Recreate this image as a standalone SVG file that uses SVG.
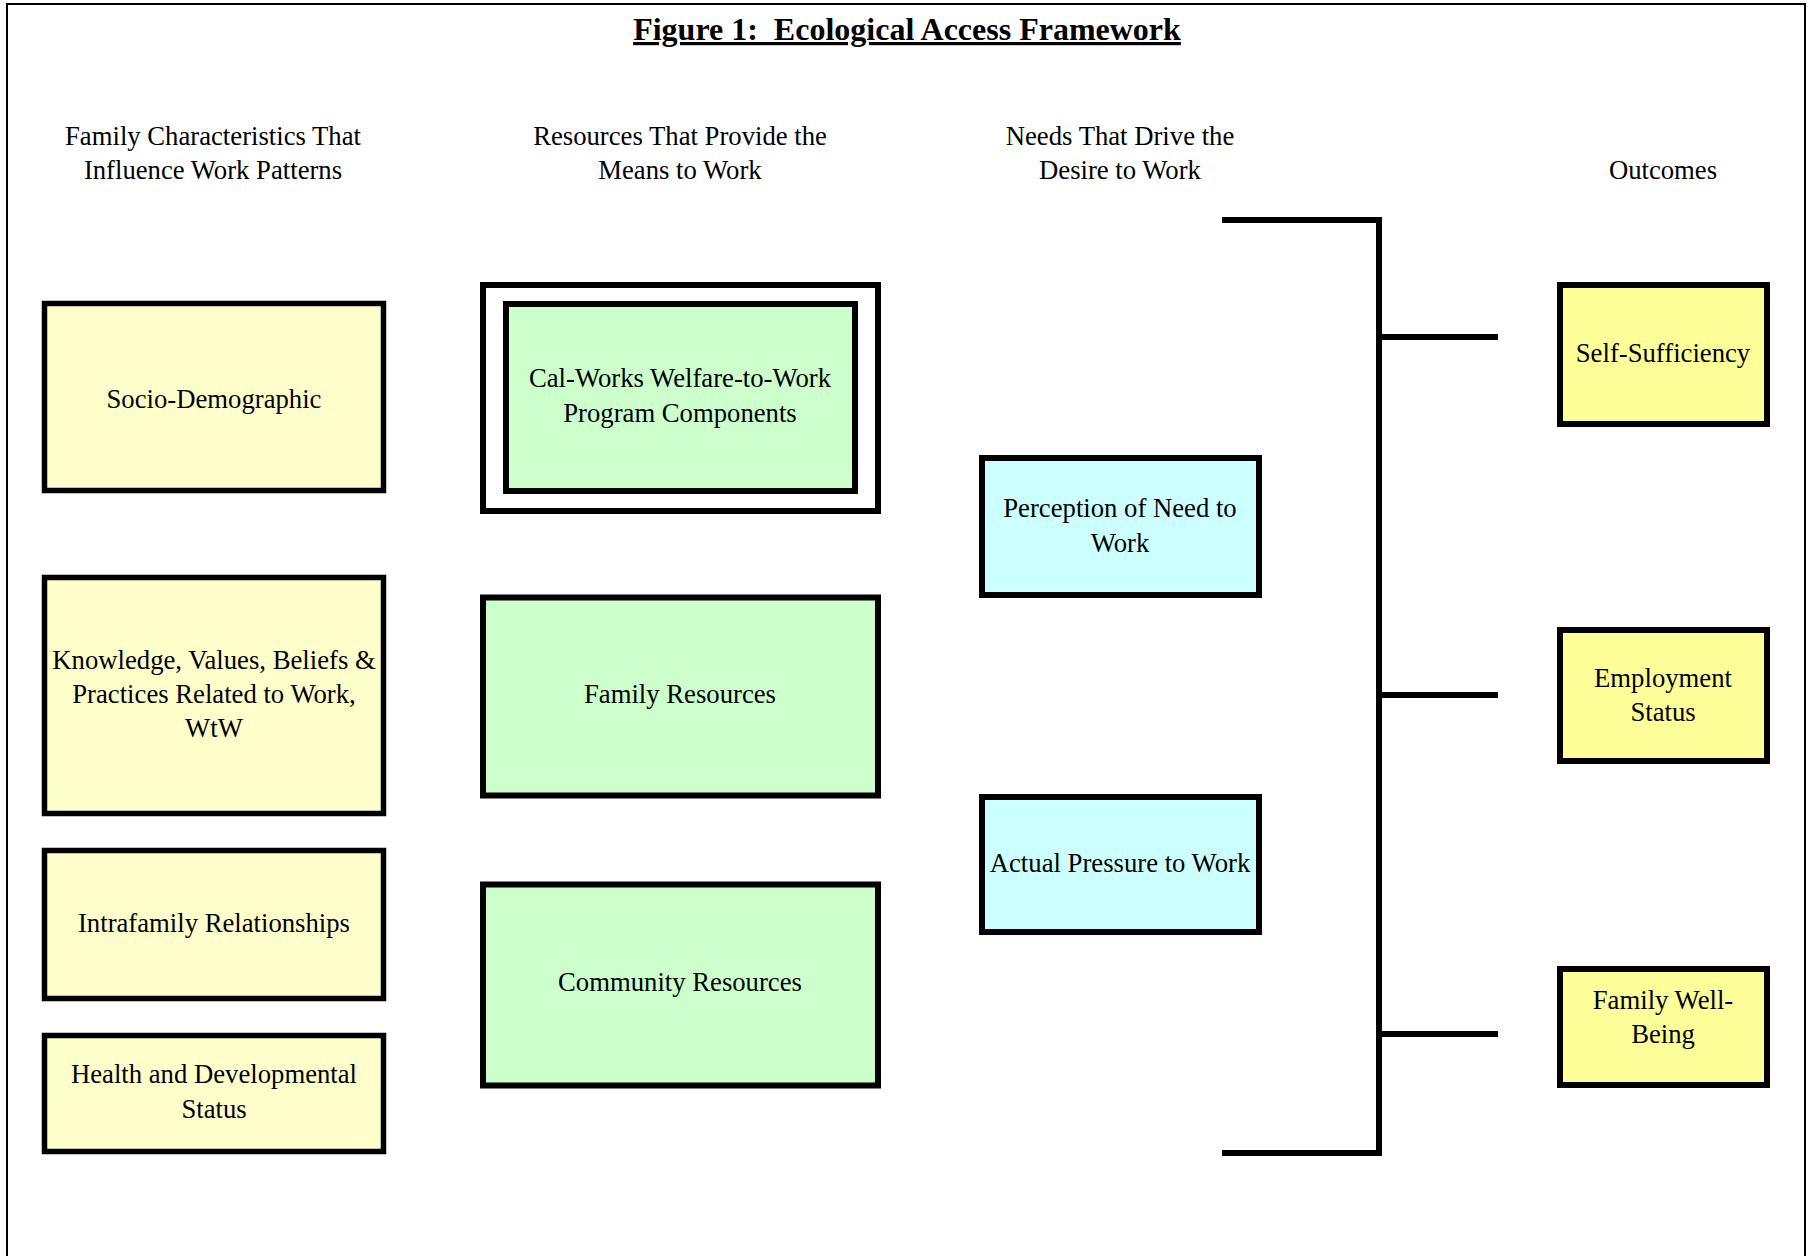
<svg xmlns="http://www.w3.org/2000/svg" width="1807" height="1256" viewBox="0 0 1807 1256">
<style>
text{font-family:"Liberation Serif","Times New Roman",serif;fill:#000;text-anchor:middle}
.t{font-size:26.7px}
.h{font-size:26.7px}
.title{font-size:32px;font-weight:bold;text-decoration:underline;white-space:pre}
.c1{fill:#FFFFCC;stroke:#000;stroke-width:5.5}
.c2{fill:#CCFFCC;stroke:#000;stroke-width:6}
.c3{fill:#CCFFFF;stroke:#000;stroke-width:6}
.c4{fill:#FFFF99;stroke:#000;stroke-width:6}
.frame{fill:#fff;stroke:#000;stroke-width:6}
.ln{fill:none;stroke:#000;stroke-width:6}
</style>
<rect width="1807" height="1256" fill="#fff"/>
<path d="M7 1256 V4 H1805 V1256" fill="none" stroke="#000" stroke-width="2"/>
<text class="title" x="907" y="40" xml:space="preserve">Figure 1:  Ecological Access Framework</text>
<g id="headers">
<text class="h" x="213" y="145">Family Characteristics That</text>
<text class="h" x="213" y="178.5">Influence Work Patterns</text>
<text class="h" x="680" y="145">Resources That Provide the</text>
<text class="h" x="680" y="178.5">Means to Work</text>
<text class="h" x="1120" y="145">Needs That Drive the</text>
<text class="h" x="1120" y="178.5">Desire to Work</text>
<text class="h" x="1663" y="178.5">Outcomes</text>
</g>
<g id="connectors">
<path class="ln" d="M1222 220 H1379 V1153 H1222"/>
<path class="ln" d="M1379 337 H1498 M1379 695 H1498 M1379 1034 H1498"/>
</g>
<g id="socio-demographic">
<rect class="c1" x="44.5" y="303.5" width="339" height="187"/>
<text class="t" x="214" y="408">Socio-Demographic</text>
</g>
<g id="knowledge">
<rect class="c1" x="44.5" y="577.5" width="339" height="236"/>
<text class="t" x="214" y="669">Knowledge, Values, Beliefs &amp;</text>
<text class="t" x="214" y="703">Practices Related to Work,</text>
<text class="t" x="214" y="737">WtW</text>
</g>
<g id="intrafamily">
<rect class="c1" x="44.5" y="850.5" width="339" height="148"/>
<text class="t" x="214" y="932">Intrafamily Relationships</text>
</g>
<g id="health">
<rect class="c1" x="44.5" y="1035.5" width="339" height="116"/>
<text class="t" x="214" y="1083">Health and Developmental</text>
<text class="t" x="214" y="1117.5">Status</text>
</g>
<g id="calworks">
<rect class="frame" x="483" y="285" width="395" height="226"/>
<rect class="c2" x="506" y="304" width="349" height="187"/>
<text class="t" x="680" y="387">Cal-Works Welfare-to-Work</text>
<text class="t" x="680" y="421.5">Program Components</text>
</g>
<g id="family-resources">
<rect class="c2" x="483" y="597.5" width="395" height="198"/>
<text class="t" x="680" y="703">Family Resources</text>
</g>
<g id="community-resources">
<rect class="c2" x="483" y="884.5" width="395" height="201"/>
<text class="t" x="680" y="991">Community Resources</text>
</g>
<g id="perception">
<rect class="c3" x="982" y="458" width="277" height="137"/>
<text class="t" x="1120" y="517">Perception of Need to</text>
<text class="t" x="1120" y="551.5">Work</text>
</g>
<g id="pressure">
<rect class="c3" x="982" y="797" width="277" height="135"/>
<text class="t" x="1120" y="872">Actual Pressure to Work</text>
</g>
<g id="self-sufficiency">
<rect class="c4" x="1560" y="285" width="207" height="139"/>
<text class="t" x="1663" y="362">Self-Sufficiency</text>
</g>
<g id="employment">
<rect class="c4" x="1560" y="630" width="207" height="131"/>
<text class="t" x="1663" y="686.5">Employment</text>
<text class="t" x="1663" y="721">Status</text>
</g>
<g id="well-being">
<rect class="c4" x="1560" y="969" width="207" height="116"/>
<text class="t" x="1663" y="1009">Family Well-</text>
<text class="t" x="1663" y="1043">Being</text>
</g>
</svg>
